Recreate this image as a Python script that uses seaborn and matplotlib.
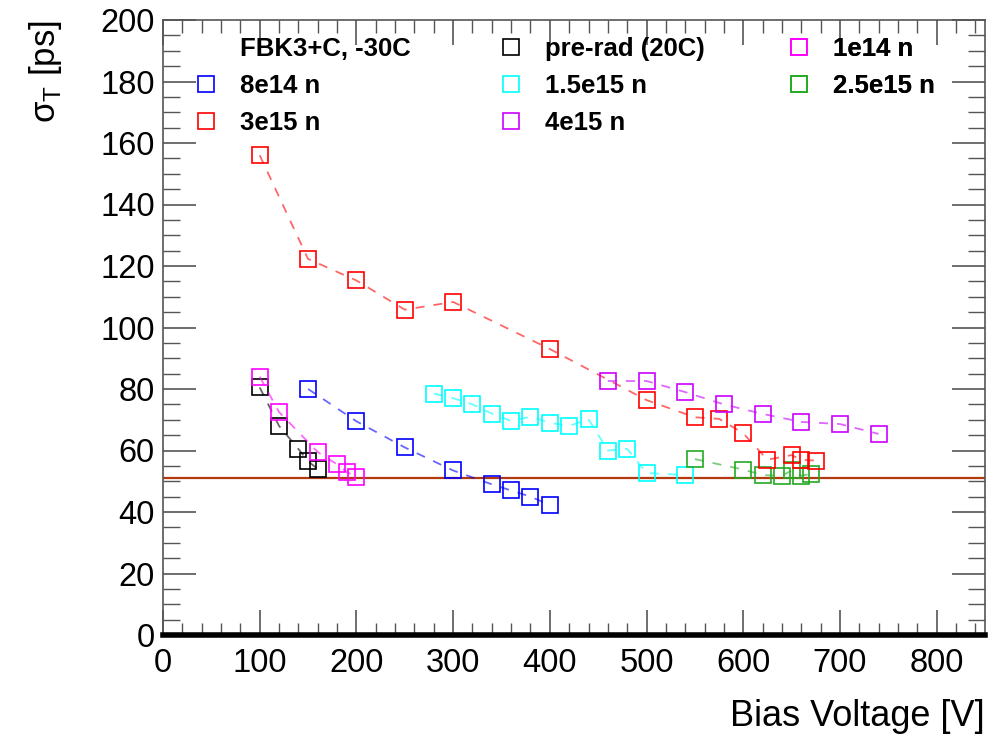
import matplotlib
matplotlib.use("Agg")
import matplotlib.pyplot as plt
from matplotlib.lines import Line2D
from matplotlib.ticker import MultipleLocator
import seaborn as sns
import pandas as pd

# ---- data ----
prerad_v = [100, 120, 140, 150, 160]
prerad_s = [80.5, 68.0, 60.5, 56.5, 54.0]

n1e14_v = [100, 120, 160, 180, 190, 200]
n1e14_s = [84.0, 72.5, 59.5, 55.5, 53.0, 51.5]

n8e14_v = [150, 200, 250, 300, 340, 360, 380, 400]
n8e14_s = [80.0, 69.5, 61.0, 53.5, 49.0, 47.0, 45.0, 42.3]

n15e15_v = [280, 300, 320, 340, 360, 380, 400, 420, 440, 460, 480, 500, 540]
n15e15_s = [78.5, 77.0, 75.0, 72.0, 69.6, 71.0, 69.0, 68.0, 70.2, 60.0, 60.5, 52.7, 52.0]

n25e15_v = [550, 600, 620, 640, 650, 660, 670]
n25e15_s = [57.2, 53.8, 52.0, 51.8, 53.5, 51.8, 52.4]

n3e15_v = [100, 150, 200, 250, 300, 400, 500, 550, 575, 600, 625, 650, 660, 675]
n3e15_s = [156.0, 122.3, 115.3, 105.8, 108.3, 93.0, 76.4, 70.8, 70.3, 65.6, 57.0, 58.5, 57.0, 56.7]

n4e15_v = [460, 500, 540, 580, 620, 660, 700, 740]
n4e15_s = [82.6, 82.6, 79.0, 75.0, 71.9, 69.3, 68.6, 65.4]

ref_level = 51.0

header = "FBK3+C, -30C"
series = {
    "pre-rad (20C)": (prerad_v, prerad_s, "#000000"),
    "1e14 n": (n1e14_v, n1e14_s, "#ff00ff"),
    "8e14 n": (n8e14_v, n8e14_s, "#0000ff"),
    "1.5e15 n": (n15e15_v, n15e15_s, "#00ffff"),
    "2.5e15 n": (n25e15_v, n25e15_s, "#22aa22"),
    "3e15 n": (n3e15_v, n3e15_s, "#ff0000"),
    "4e15 n": (n4e15_v, n4e15_s, "#cc00ff"),
}

# ---- style ----
sns.set_theme(style="ticks")
plt.rcParams['font.family'] = ['Liberation Sans', 'DejaVu Sans']
plt.rcParams['mathtext.fontset'] = 'custom'
plt.rcParams['mathtext.rm'] = 'Liberation Sans'
plt.rcParams['text.color'] = 'black'
plt.rcParams['axes.labelcolor'] = 'black'

fig = plt.figure(figsize=(10.08, 7.39), dpi=100)
ax = fig.add_axes([163/1008, 1-635/739, (985-163)/1008, (635-20)/739])

MS = 11
for name, (v, s, c) in series.items():
    df = pd.DataFrame({"V": v, "s": s})
    sns.lineplot(data=df, x="V", y="s", ax=ax, color=c, linestyle=(0, (5, 5)),
                 linewidth=1.3, alpha=0.6, sort=False, estimator=None)
    ax.plot(df["V"], df["s"], linestyle="none", marker="s", markersize=MS,
            markerfacecolor="none", markeredgecolor=c, markeredgewidth=1.2)

ax.axhline(ref_level, color="#b23a0e", linewidth=1.6, zorder=1)

ax.set_xlim(0, 850)
ax.set_ylim(0, 200)
ax.xaxis.set_major_locator(MultipleLocator(100))
ax.xaxis.set_minor_locator(MultipleLocator(20))
ax.yaxis.set_major_locator(MultipleLocator(20))
ax.yaxis.set_minor_locator(MultipleLocator(5))
ax.tick_params(which="both", direction="in", top=True, right=True,
               labelsize=23.5, color="#555555", pad=6, labelcolor="black")
ax.tick_params(which="major", axis="x", pad=9)
ax.tick_params(which="major", axis="y", length=24, width=1.2)
ax.tick_params(which="minor", axis="y", length=12, width=1.0)
ax.tick_params(which="major", axis="x", length=18, width=1.2)
ax.tick_params(which="minor", axis="x", length=9, width=1.0)

for sp in ["left", "right", "top"]:
    ax.spines[sp].set_color("#555555")
    ax.spines[sp].set_linewidth(1.2)
ax.spines["bottom"].set_color("black")
ax.spines["bottom"].set_linewidth(4)

ax.set_xlabel("Bias Voltage [V]", fontsize=26, loc="right", labelpad=15, color="black")
ax.set_ylabel(r"σ$_{\mathregular{T}}$ [ps]", fontsize=25, loc="top", labelpad=26, color="black")

# legend: three columns placed individually
def handle(c):
    return Line2D([], [], linestyle="none", marker="s", markersize=MS,
                  markerfacecolor="none", markeredgecolor=c, markeredgewidth=1.2)

columns = [
    [(header, None), ("8e14 n", series["8e14 n"][2]), ("3e15 n", series["3e15 n"][2])],
    [("pre-rad (20C)", series["pre-rad (20C)"][2]), ("1.5e15 n", series["1.5e15 n"][2]),
     ("4e15 n", series["4e15 n"][2])],
    [("1e14 n", series["1e14 n"][2]), ("2.5e15 n", series["2.5e15 n"][2])],
]
col_x = [0.0336, 0.4046, 0.755]
for xpos, col in zip(col_x, columns):
    hs = [Line2D([], [], linestyle="none") if c is None else handle(c) for _, c in col]
    ls = [t for t, _ in col]
    leg = ax.legend(hs, ls, loc="upper left", bbox_to_anchor=(xpos, 0.972),
                    frameon=False, prop={"weight": "bold", "size": 18.5},
                    handletextpad=0.72, labelspacing=0.5, handlelength=1.2,
                    borderaxespad=0, borderpad=0, labelcolor="black")
    ax.add_artist(leg)

fig.savefig("out.png", dpi=100)
